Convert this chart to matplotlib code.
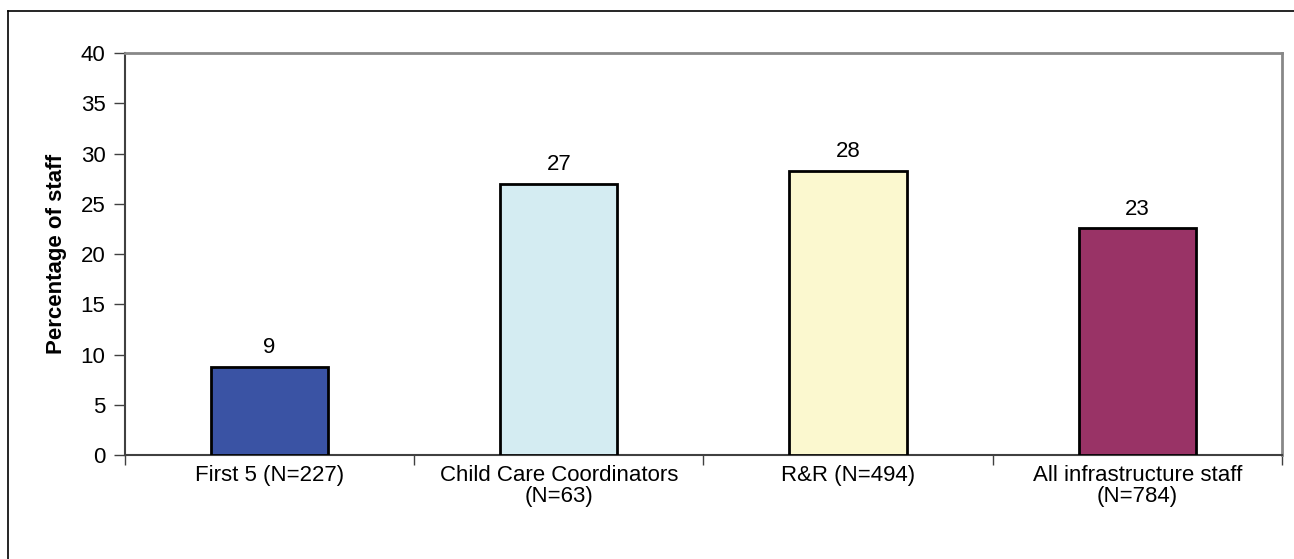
import matplotlib.pyplot as plt
from matplotlib.lines import Line2D

plt.rcParams['font.family'] = ['Liberation Sans', 'DejaVu Sans']

categories = ['First 5 (N=227)', 'Child Care Coordinators\n(N=63)',
              'R&R (N=494)', 'All infrastructure staff\n(N=784)']
values = [8.8, 27.0, 28.3, 22.6]
colors = ['#3A53A4', '#D4ECF2', '#FBF8CF', '#993366']

fig = plt.figure(figsize=(12.94, 5.59), dpi=100)
ax = fig.add_axes([0.0966, 0.186, 0.894, 0.719])

x = range(len(categories))
bars = ax.bar(x, values, width=0.405, color=colors, edgecolor='black', linewidth=2, zorder=3)
for xi, v in zip(x, values):
    ax.annotate('{}'.format(round(v)), (xi, v), xytext=(0, 6), textcoords='offset points',
                ha='center', va='bottom', fontsize=16)

ax.set_xlim(-0.5, len(categories) - 0.5)
ax.set_ylim(0, 40)
ax.set_yticks(range(0, 41, 5))
ax.tick_params(axis='y', labelsize=16, length=8, width=1, color='#404040', pad=6)

# category labels centred, ticks on boundaries
ax.set_xticks(list(x))
ax.set_xticklabels(categories, fontsize=16, linespacing=1.0)
ax.tick_params(axis='x', which='major', length=0, pad=7)
ax.set_xticks([i - 0.5 for i in range(len(categories) + 1)], minor=True)
ax.tick_params(axis='x', which='minor', length=7, width=1, color='#404040', direction='out')

for s in ['left', 'bottom']:
    ax.spines[s].set_color('#404040')
    ax.spines[s].set_linewidth(1.5)
for s in ['top', 'right']:
    ax.spines[s].set_color('#888888')
    ax.spines[s].set_linewidth(2)

ax.set_ylabel('Percentage of staff', fontsize=16, fontweight='bold', labelpad=10)

# outer frame of the original chart (top and left edges visible)
fig.add_artist(Line2D([8 / 1294, 1.0], [1 - 11 / 559, 1 - 11 / 559], transform=fig.transFigure,
                      color='black', linewidth=1.2))
fig.add_artist(Line2D([8 / 1294, 8 / 1294], [0.0, 1 - 11 / 559], transform=fig.transFigure,
                      color='black', linewidth=1.2))

fig.savefig('out.png', dpi=100)
